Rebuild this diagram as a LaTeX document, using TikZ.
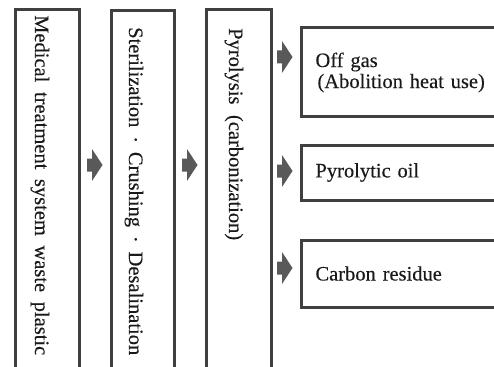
\documentclass[tikz,border=0pt]{standalone}
\usepackage{fontspec}
\setmainfont[FakeBold=0.25]{Liberation Serif}

\begin{document}
\begin{tikzpicture}[x=1pt, y=-1pt,
  stagebox/.style={draw=black!75, line width=3pt, anchor=north west,
    minimum width=#1, minimum height=400pt, inner sep=0pt},
  stagetext/.style={rotate=-90, anchor=base west, inner sep=0pt,
    font=\fontsize{20.5}{24}\selectfont, text=black!90},
  product/.style={draw=black!75, line width=3pt, anchor=west,
    minimum width=192pt, minimum height=#1, inner xsep=14pt,
    text width=180pt, align=left,
    font=\fontsize{20.5}{21}\selectfont, text=black!90},
  flow/.style={fill=black!65}]
\clip (0,0) rectangle (494,366);
\node[stagebox=64pt] (waste) at (14,8) {};
\node[stagebox=63pt] (pretreat) at (110,9) {};
\node[stagebox=65pt] (pyro) at (205,8) {};
\node[stagetext] (wasteText) at (35,15) {\makebox[340pt][s]{Medical treatment system waste plastic}};
\node[stagetext] (pretreatText) at (129,27) {\makebox[328pt][s]{Sterilization \,·\, Crushing \,·\, Desalination}};
\node[stagetext] (pyroText) at (229,28) {\makebox[212pt][s]{Pyrolysis (carbonization)}};
\node[product=89pt] (gas) at (300,72.5) {Off gas\\\hspace*{2pt}(Abolition heat use)};
\node[product=55pt] (oil) at (300,172.5) {Pyrolytic oil};
\node[product=67pt] (carbon) at (300,273.5) {Carbon residue};
% block arrows between the stages
\coordinate (f1) at (87,165);
\coordinate (f2) at (182,165);
\coordinate (f3) at (277,57);
\coordinate (f4) at (277,171);
\coordinate (f5) at (277,268);
\foreach \f in {f1,f2,f3,f4,f5}
  \fill[flow] (\f) ++(0,-6.5) -- ++(5,0) -- ++(0,-9.5) -- ++(10.5,16) -- ++(-10.5,16) -- ++(0,-9.5) -- ++(-5,0) -- cycle;
\end{tikzpicture}
\end{document}
